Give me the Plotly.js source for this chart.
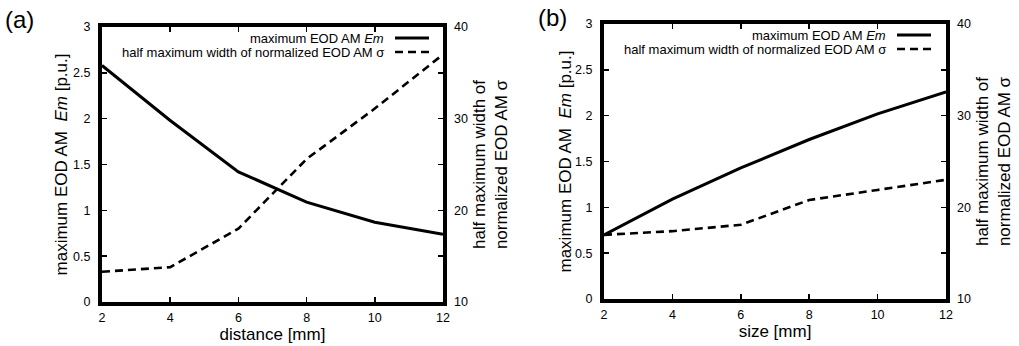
<!DOCTYPE html>
<html>
<head>
<meta charset="utf-8">
<script src="https://cdn.plot.ly/plotly-3.0.1.min.js"></script>
<style>html,body{margin:0;padding:0;background:#fff;}#chart{width:1019px;height:346px;}</style>
</head>
<body>
<div id="chart"></div>
<script>
// Data
var distance = [2, 4, 6, 8, 10, 12];
var emDistance = [2.58, 1.98, 1.42, 1.09, 0.87, 0.74];
var sigmaDistance = [13.3, 13.8, 18.0, 25.6, 31.1, 37.0];

var size = [2, 4, 6, 8, 10, 12];
var emSize = [0.70, 1.09, 1.43, 1.74, 2.02, 2.26];
var sigmaSize = [17.0, 17.4, 18.1, 20.8, 21.9, 23.0];

var xTicks = [2, 4, 6, 8, 10, 12];
var yTicks = [0, 0.5, 1, 1.5, 2, 2.5, 3];
var y2Ticks = [10, 20, 30, 40];

var legendEm = 'maximum EOD AM <i>Em</i>';
var legendSigma = 'half maximum width of normalized EOD AM σ';
var yTitle = 'maximum EOD AM  <i>Em</i> [p.u.]';
var y2Title = 'half maximum width of<br>normalized EOD AM σ';

var FONT = 'Liberation Sans, Arial, Helvetica, sans-serif';
var W = 1019, H = 346;
var TICK = 12.5;

var traces = [
  {x: distance, y: emDistance, xaxis: 'x', yaxis: 'y', mode: 'lines', line: {color: '#000', width: 3}, name: legendEm, showlegend: false},
  {x: distance, y: sigmaDistance, xaxis: 'x', yaxis: 'y2', mode: 'lines', line: {color: '#000', width: 2.6, dash: '8px,5px'}, name: legendSigma, showlegend: false},
  {x: size, y: emSize, xaxis: 'x2', yaxis: 'y3', mode: 'lines', line: {color: '#000', width: 3}, name: legendEm, showlegend: false},
  {x: size, y: sigmaSize, xaxis: 'x2', yaxis: 'y4', mode: 'lines', line: {color: '#000', width: 2.6, dash: '8px,5px'}, name: legendSigma, showlegend: false}
];

function xax(domain, anchor, title) {
  return {
    domain: domain, anchor: anchor, range: [2, 12],
    tickmode: 'array', tickvals: xTicks, ticktext: xTicks.map(String),
    ticks: 'inside', ticklen: 5, tickwidth: 1.5, tickcolor: '#000',
    showline: true, linewidth: 4, linecolor: '#000', mirror: 'ticks',
    showgrid: false, zeroline: false,
    tickfont: {family: FONT, size: TICK, color: '#000'},
    ticklabelstandoff: 1,
    title: {text: title, font: {family: FONT, size: 17, color: '#000'}, standoff: 1}
  };
}
function yax(domain, anchor, title, standoff) {
  return {
    domain: domain, anchor: anchor, range: [0, 3],
    tickmode: 'array', tickvals: yTicks, ticktext: yTicks.map(String),
    ticks: 'inside', ticklen: 5, tickwidth: 1.5, tickcolor: '#000',
    showline: true, linewidth: 4, linecolor: '#000', mirror: 'ticks',
    showgrid: false, zeroline: false,
    tickfont: {family: FONT, size: TICK, color: '#000'},
    ticklabelstandoff: 5,
    title: {text: title, font: {family: FONT, size: 17, color: '#000'}, standoff: standoff}
  };
}
function y2ax(overlay, anchor) {
  return {
    overlaying: overlay, anchor: anchor, side: 'right', range: [10, 40],
    tickmode: 'array', tickvals: y2Ticks, ticktext: y2Ticks.map(String),
    ticks: '', showline: false, showgrid: false, zeroline: false,
    tickfont: {family: FONT, size: TICK, color: '#000'},
    ticklabelstandoff: 10,
    title: {text: y2Title, font: {family: FONT, size: 17, color: '#000'}, standoff: 6}
  };
}

var axA = [102 / W, 443 / W];
var ayA = [1 - 302 / H, 1 - 27 / H];
var axB = [604 / W, 946 / W];
var ayB = [1 - 299 / H, 1 - 24 / H];

function legendItems(xr, yTop) {
  var out = {ann: [], shapes: []};
  var labels = [legendEm, legendSigma];
  for (var i = 0; i < 2; i++) {
    var yy = 1 - (yTop + i * 14) / H;
    out.ann.push({xref: 'paper', yref: 'paper', x: xr / W, y: yy, xanchor: 'right', yanchor: 'middle',
      text: labels[i], showarrow: false, font: {family: FONT, size: 13, color: '#000'}});
    out.shapes.push({type: 'line', xref: 'paper', yref: 'paper', x0: (xr + 9) / W, x1: (xr + 43) / W, y0: yy, y1: yy,
      line: {color: '#000', width: i === 0 ? 3 : 2.6, dash: i === 0 ? 'solid' : '8px,5px'}});
  }
  return out;
}
var legA = legendItems(386, 38);
var legB = legendItems(888, 35);

var layout = {
  width: W, height: H,
  margin: {l: 0, r: 0, t: 0, b: 0},
  paper_bgcolor: '#fff', plot_bgcolor: '#fff',
  showlegend: false,
  font: {family: FONT, color: '#000'},
  xaxis: xax(axA, 'y', 'distance [mm]'),
  yaxis: yax(ayA, 'x', yTitle, 2),
  yaxis2: y2ax('y', 'x'),
  xaxis2: xax(axB, 'y3', 'size [mm]'),
  yaxis3: yax(ayB, 'x2', '', 0),
  yaxis4: y2ax('y3', 'x2'),
  annotations: [
    {xref: 'paper', yref: 'paper', x: 3 / W, y: 1 - 20 / H, xanchor: 'left', yanchor: 'middle', text: '(a)', showarrow: false, font: {family: FONT, size: 24, color: '#000'}},
    {xref: 'paper', yref: 'paper', x: 536 / W, y: 1 - 17 / H, xanchor: 'left', yanchor: 'middle', text: '(b)', showarrow: false, font: {family: FONT, size: 24, color: '#000'}},
    {xref: 'paper', yref: 'paper', x: 565 / W, y: (ayB[0] + ayB[1]) / 2, xanchor: 'center', yanchor: 'middle', textangle: -90, text: yTitle, showarrow: false, font: {family: FONT, size: 17, color: '#000'}}
  ].concat(legA.ann, legB.ann),
  shapes: legA.shapes.concat(legB.shapes)
};

Plotly.newPlot('chart', traces, layout, {displayModeBar: false, staticPlot: true});
</script>
</body>
</html>
